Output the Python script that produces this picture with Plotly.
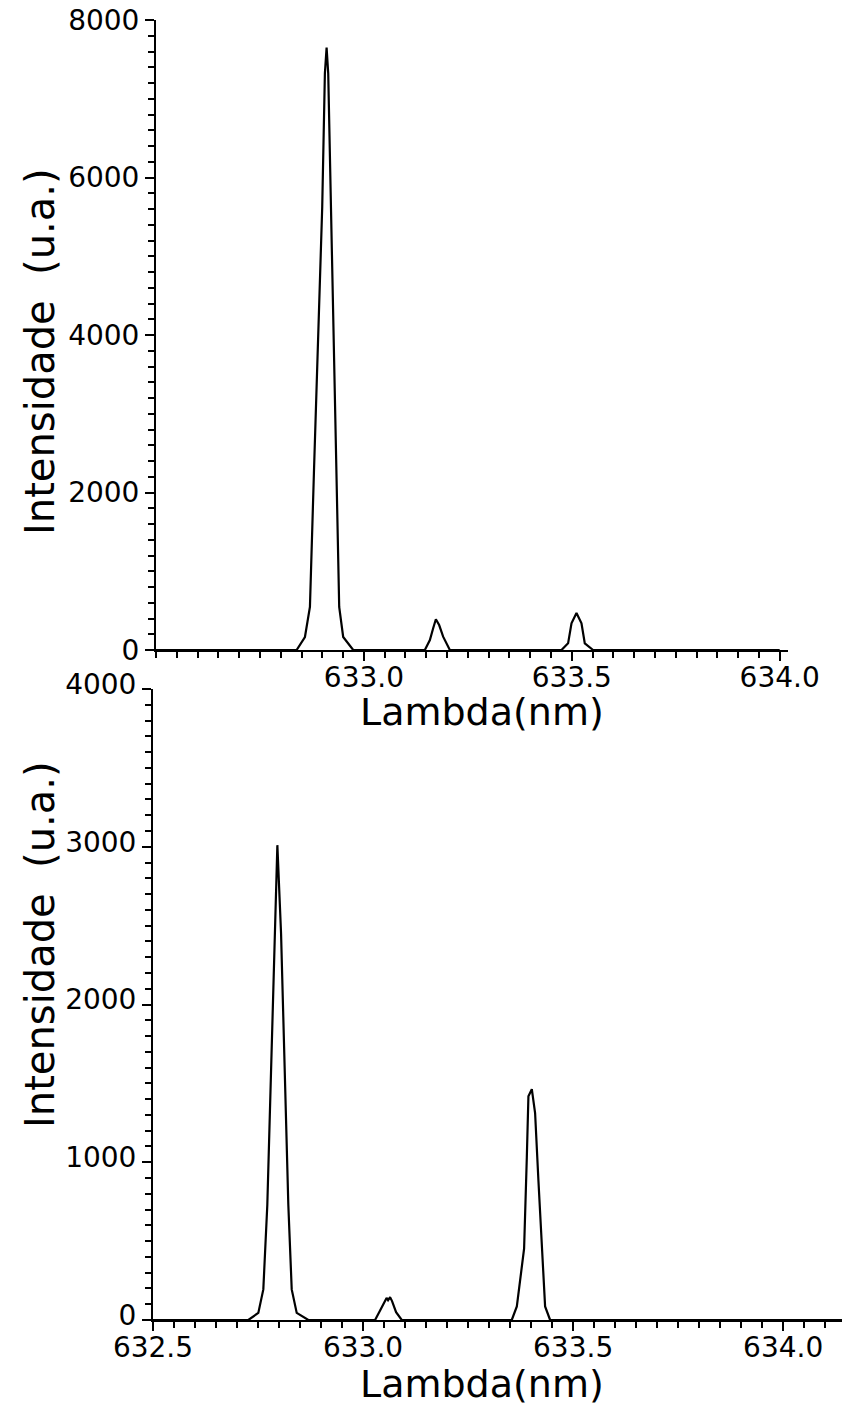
import plotly.graph_objects as go

# ---- data (wavelength in nm, intensity in a.u.) ----
top_wl = [632.50, 632.8382, 632.8582, 632.8702, 632.8798, 632.8901, 632.8998, 632.9062,
          632.9103, 632.9142, 632.9207, 632.9262, 632.9327, 632.9406, 632.9502, 632.9743,
          633.1466, 633.1587, 633.1666, 633.1731, 633.1810, 633.1906, 633.2067,
          633.4752, 633.4911, 633.4993, 633.5113, 633.5233, 633.5313, 633.5512, 634.00]
top_int = [0, 0, 165, 546, 2248, 3937, 5629, 7323,
           7650, 7323, 5629, 3937, 2248, 546, 165, 0,
           0, 127, 276, 390, 317, 169, 0,
           0, 85, 339, 470, 339, 85, 0, 0]

bot_wl = [632.50, 632.7269, 632.7507, 632.7626, 632.7721, 632.7810, 632.7888, 632.7960,
          632.8048, 632.8126, 632.8221, 632.8302, 632.8421, 632.8698,
          633.0286, 633.0405, 633.0512, 633.0560, 633.0595, 633.0643, 633.0690, 633.0786, 633.0921,
          633.3540, 633.3660, 633.3738, 633.3833, 633.3898, 633.3936, 633.4017,
          633.4095, 633.4174, 633.4293, 633.4333, 633.4452, 634.14]
bot_int = [0, 0, 45, 194, 731, 1594, 2452, 3010,
           2452, 1594, 731, 194, 45, 0,
           0, 60, 110, 140, 125, 145, 120, 50, 0,
           0, 86, 258, 452, 1032, 1419, 1463,
           1312, 884, 279, 86, 0, 0]

top_xticks = [633.0, 633.5, 634.0]
bot_xticks = [632.5, 633.0, 633.5, 634.0]
top_yticks = [0, 2000, 4000, 6000, 8000]
bot_yticks = [0, 1000, 2000, 3000, 4000]

x_title = "Lambda(nm)"
y_title = "Intensidade  (u.a.)"

W, H = 842, 1406
FONT = "DejaVu Sans"


def px_x(p):
    return p / W


def px_y(p):
    return 1 - p / H


fig = go.Figure()
fig.add_trace(go.Scatter(x=top_wl, y=top_int, mode="lines",
                         line=dict(color="black", width=2.2),
                         xaxis="x", yaxis="y", showlegend=False))
fig.add_trace(go.Scatter(x=bot_wl, y=bot_int, mode="lines",
                         line=dict(color="black", width=2.2),
                         xaxis="x2", yaxis="y2", showlegend=False))

tickfont = dict(family=FONT, size=28, color="black")

common_axis = dict(showgrid=False, zeroline=False, showline=True, linecolor="black",
                   linewidth=2, ticks="outside", tickcolor="black", tickwidth=2,
                   ticklen=9, tickfont=tickfont, automargin=False)

xminor = dict(tickmode="linear", tick0=632.5, dtick=0.05, ticks="outside",
              ticklen=6, tickwidth=2, tickcolor="black")

fig.update_layout(
    width=W, height=H,
    margin=dict(l=0, r=0, t=0, b=0, autoexpand=False),
    paper_bgcolor="white", plot_bgcolor="white",
    font=dict(family=FONT, color="black"),
    xaxis=dict(domain=[px_x(156), px_x(788)], range=[632.5, 634.02], anchor="y",
               tickmode="array", tickvals=top_xticks, ticktext=[f"{v:.1f}" for v in top_xticks],
               minor=xminor, ticklabelstandoff=-8, **common_axis),
    yaxis=dict(domain=[px_y(650), px_y(20)], range=[0, 8000], anchor="x",
               tickmode="array", tickvals=top_yticks, ticktext=[str(v) for v in top_yticks],
               minor=dict(tickmode="linear", tick0=0, dtick=200, ticks="outside",
                          ticklen=6, tickwidth=2, tickcolor="black"),
               **common_axis),
    xaxis2=dict(domain=[px_x(153), 1.0], range=[632.5, 634.14], anchor="y2",
                tickmode="array", tickvals=bot_xticks, ticktext=[f"{v:.1f}" for v in bot_xticks],
                minor=xminor, ticklabelstandoff=-8, **common_axis),
    yaxis2=dict(domain=[px_y(1320), px_y(689)], range=[0, 4000], anchor="x2",
                tickmode="array", tickvals=bot_yticks, ticktext=[str(v) for v in bot_yticks],
                minor=dict(tickmode="linear", tick0=0, dtick=100, ticks="outside",
                           ticklen=6, tickwidth=2, tickcolor="black"),
                ticklabelshift=-5, **common_axis),
)

title_font = dict(family=FONT, size=38, color="black")
ytitle_font = dict(family=FONT, size=40, color="black")
annotations = [
    dict(text=y_title, x=px_x(40), y=px_y(352), xref="paper", yref="paper",
         textangle=-90, showarrow=False, font=ytitle_font, xanchor="center", yanchor="middle"),
    dict(text=y_title, x=px_x(40), y=px_y(945), xref="paper", yref="paper",
         textangle=-90, showarrow=False, font=ytitle_font, xanchor="center", yanchor="middle"),
    dict(text=x_title, x=px_x(482), y=px_y(712), xref="paper", yref="paper",
         showarrow=False, font=title_font, xanchor="center", yanchor="middle"),
    dict(text=x_title, x=px_x(482), y=px_y(1384), xref="paper", yref="paper",
         showarrow=False, font=title_font, xanchor="center", yanchor="middle"),
]
fig.update_layout(annotations=annotations)

fig.write_html("out.html")
